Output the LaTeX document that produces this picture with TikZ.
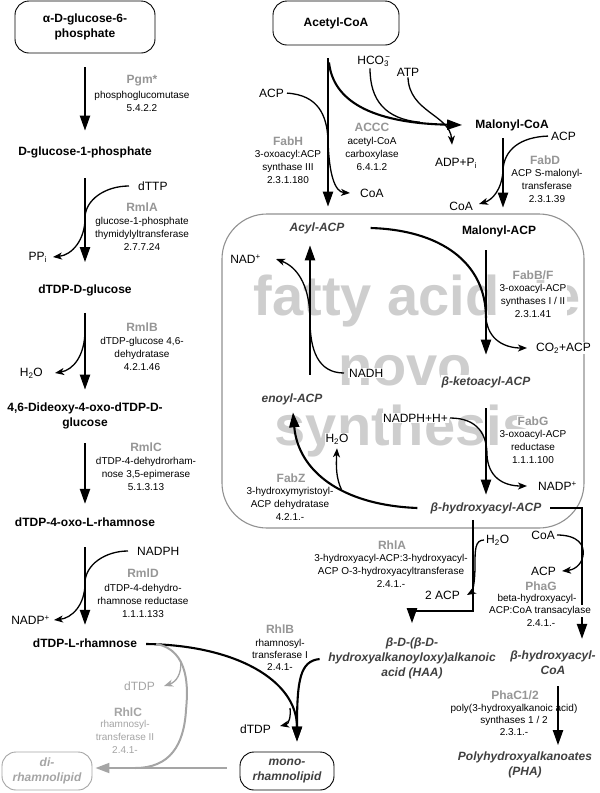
\documentclass[tikz,border=0pt]{standalone}
\usepackage{fontspec}
\setmainfont{Liberation Sans}
\usetikzlibrary{arrows.meta}
\definecolor{enzg}{RGB}{150,150,150}
\definecolor{metg}{RGB}{64,64,64}
\definecolor{wmk}{RGB}{206,206,206}
\definecolor{boxg}{RGB}{145,145,145}
\definecolor{lgr}{RGB}{165,165,165}
\begin{document}
\begin{tikzpicture}[x=1pt,y=-1pt,
  lab/.style={inner sep=1pt,fill=white},
  met/.style={lab,align=center,font=\fontsize{12}{15}\selectfont\bfseries},
  imet/.style={lab,align=center,font=\fontsize{12}{15}\selectfont\bfseries\itshape,text=metg},
  enz/.style={lab,font=\fontsize{12}{14}\selectfont\bfseries,text=enzg},
  desc/.style={lab,align=center,font=\fontsize{10}{13}\selectfont},
  descs/.style={lab,align=center,font=\fontsize{10}{12}\selectfont},
  side/.style={lab,font=\fontsize{12}{14}\selectfont},
  wm/.style={inner sep=0pt,anchor=base,text=wmk,font=\fontsize{56}{60}\selectfont\bfseries},
  rbox/.style={draw,rounded corners=14pt,line width=0.9pt},
  mainar/.style={line width=2.1pt,-{Triangle[length=15pt,width=10pt]}},
  mainln/.style={line width=2.1pt},
  sidear/.style={line width=1.3pt,-{Stealth[length=9pt,width=7pt,inset=2.5pt]}},
  sideln/.style={line width=1.3pt},
  grar/.style={line width=2pt,draw=lgr,-{Triangle[length=14pt,width=10pt]}},
  grln/.style={line width=2pt,draw=lgr},
  grsar/.style={line width=1.3pt,draw=lgr,-{Stealth[length=9pt,width=7pt,inset=2.5pt]}}
]
\useasboundingbox (0,0) rectangle (600,793);

% fatty acid box and watermark
\draw[draw=boxg,line width=1.1pt,rounded corners=45pt] (222,214) rectangle (584,528);
\node[wm] (wm1) at (417,315) {fatty acid de};
\node[wm] (wm2) at (405,385) {novo};
\node[wm] (wm3) at (404,445) {synthesis};

% left column metabolites
\node[met,rbox,minimum width=140pt,minimum height=52pt] (g6p) at (85,27) {α-D-glucose-6-\\phosphate};
\node[met] (g1p) at (85,152) {D-glucose-1-phosphate};
\node[met] (dtg) at (85,290) {dTDP-D-glucose};
\node[met] (ddx) at (85,416) {4,6-Dideoxy-4-oxo-dTDP-D-\\glucose};
\node[met] (oxr) at (85,522) {dTDP-4-oxo-L-rhamnose};
\node[met] (lrh) at (85,643) {dTDP-L-rhamnose};

% right metabolites
\node[met,rbox,minimum width=126pt,minimum height=44pt] (acoa) at (336,23) {Acetyl-CoA};
\node[met] (mcoa) at (512,125) {Malonyl-CoA};
\node[imet] (acyl) at (317,228) {Acyl-ACP};
\node[met] (macp) at (499,231) {Malonyl-ACP};
\node[imet] (bket) at (486,382) {β-ketoacyl-ACP};
\node[imet] (enoyl) at (292,399) {enoyl-ACP};
\node[imet] (bhyd) at (486,508) {β-hydroxyacyl-ACP};
\node[imet] (haa) at (412,658) {β-D-(β-D-\\hydroxyalkanoyloxy)alkanoic\\acid (HAA)};
\node[imet] (bhcoa) at (553,663) {β-hydroxyacyl-\\CoA};
\node[imet] (pha) at (525,765) {Polyhydroxyalkanoates\\(PHA)};
\node[imet,rbox,minimum width=94pt,minimum height=38pt] (mono) at (287,771) {mono-\\rhamnolipid};
\node[imet,rbox,draw=lgr,text=lgr,minimum width=90pt,minimum height=38pt] (di) at (47,771) {di-\\rhamnolipid};

% side substances
\node[side,anchor=west] (dttp) at (137,186) {dTTP};
\node[side,anchor=east] (ppi) at (48,257) {PP\textsubscript{i}};
\node[side,anchor=east] (h2oa) at (44,373) {H\textsubscript{2}O};
\node[side,anchor=west] (nadph) at (136,551) {NADPH};
\node[side,anchor=east] (nadpa) at (51,620) {NADP\textsuperscript{+}};
\node[side,anchor=east] (acp1) at (285,93) {ACP};
\node[side,anchor=west] (coa1) at (359,193) {CoA};
\node[side] (hco3) at (374,61) {HCO\rlap{\textsubscript{3}}\textsuperscript{\,−}};
\node[side] (atp) at (408,72) {ATP};
\node[side] (adp) at (456,163) {ADP+P\textsubscript{i}};
\node[side,anchor=west] (acp2) at (550,136) {ACP};
\node[side,anchor=east] (coa2) at (474,206) {CoA};
\node[side,anchor=east] (nad) at (262,259) {NAD\textsuperscript{+}};
\node[side,anchor=west] (nadh) at (348,373) {NADH};
\node[side,anchor=west] (co2) at (535,348) {CO\textsubscript{2}+ACP};
\node[side,anchor=east] (nadphh) at (449,418) {NADPH+H+};
\node[side,anchor=west] (nadp2) at (537,486) {NADP\textsuperscript{+}};
\node[side] (h2oz) at (337,439) {H\textsubscript{2}O};
\node[side,anchor=west] (h2or) at (485,540) {H\textsubscript{2}O};
\node[side,anchor=east] (acp2r) at (461,595) {2 ACP};
\node[side,anchor=east] (coap) at (556,535) {CoA};
\node[side,anchor=east] (acpp) at (557,571) {ACP};
\node[side,anchor=east] (dtdpb) at (272,729) {dTDP};
\node[side,anchor=east,text=lgr] (dtdpg) at (156,686) {dTDP};

% enzymes
\node[enz] (pgm) at (142,81) {Pgm*};
\node[desc] (pgmd) at (142,101.5) {phosphoglucomutase\\5.4.2.2};
\node[enz] (rmla) at (142,207) {RmlA};
\node[desc] (rmlad) at (142,233.5) {glucose-1-phosphate\\thymidylyltransferase\\2.7.7.24};
\node[enz] (rmlb) at (142,327) {RmlB};
\node[desc] (rmlbd) at (142,353.5) {dTDP-glucose 4,6-\\dehydratase\\4.2.1.46};
\node[enz] (rmlc) at (146,447) {RmlC};
\node[desc] (rmlcd) at (146,474) {dTDP-4-dehydrorham-\\nose 3,5-epimerase\\5.1.3.13};
\node[enz] (rmld) at (143,573) {RmlD};
\node[desc] (rmldd) at (143,600.5) {dTDP-4-dehydro-\\rhamnose reductase\\1.1.1.133};
\node[enz] (fabh) at (288,141) {FabH};
\node[desc] (fabhd) at (288,166.5) {3-oxoacyl:ACP\\synthase III\\2.3.1.180};
\node[enz] (accc) at (372,127) {ACCC};
\node[desc] (acccd) at (372,153.5) {acetyl-CoA\\carboxylase\\6.4.1.2};
\node[enz] (fabd) at (545,160) {FabD};
\node[desc] (fabdd) at (547,186) {ACP S-malonyl-\\transferase\\2.3.1.39};
\node[enz] (fabbf) at (533,275) {FabB/F};
\node[desc] (fabbfd) at (533,300.5) {3-oxoacyl-ACP\\synthases I / II\\2.3.1.41};
\node[enz] (fabg) at (533,421) {FabG};
\node[desc] (fabgd) at (533,447) {3-oxoacyl-ACP\\reductase\\1.1.1.100};
\node[enz] (fabz) at (291,478) {FabZ};
\node[desc] (fabzd) at (290,504) {3-hydroxymyristoyl-\\ACP dehydratase\\4.2.1.-};
\node[enz] (rhla) at (392,545) {RhlA};
\node[desc] (rhlad) at (391,571) {3-hydroxyacyl-ACP:3-hydroxyacyl-\\ACP O-3-hydroxyacyltransferase\\2.4.1.-};
\node[enz] (phag) at (541,586) {PhaG};
\node[descs] (phagd1) at (537,599) {beta-hydroxyacyl-};
\node[descs] (phagd3) at (541,623) {2.4.1.-};
\node[enz] (phac) at (515,695) {PhaC1/2};
\node[descs] (phacd) at (514,720) {poly(3-hydroxyalkanoic acid)\\synthases 1 / 2\\2.3.1.-};
\node[enz] (rhlb) at (280,629) {RhlB};
\node[descs] (rhlbd) at (280,654.5) {rhamnosyl-\\transferase I\\2.4.1-};
\node[enz,text=lgr] (rhlc) at (128,712) {RhlC};
\node[desc,text=lgr] (rhlcd) at (125,737) {rhamnosyl-\\transferase II\\2.4.1-};

% ---- connectors: left column
\draw[mainar,shorten <=14pt,shorten >=14.5pt] (g6p.south) -- (g1p.north);
\draw[mainar,shorten <=19.5pt,shorten >=21pt] (g1p.south) -- (dtg.north);
\draw[mainar,shorten <=16pt,shorten >=12pt] (dtg.south) -- (ddx.north);
\draw[mainar,shorten <=13pt,shorten >=12.5pt] (ddx.south) -- (oxr.north);
\draw[mainar,shorten <=19.5pt,shorten >=12.5pt] (oxr.south) -- (lrh.north);
\draw[sidear,shorten <=8pt] (dttp.west) .. controls (105,186) and (85,200) .. (85,218) .. controls (85,240) and (72,255) .. ([xshift=5pt]ppi.east);
\coordinate (rbs) at (85,330);
\draw[sidear] (rbs) .. controls (85,356) and (73,370) .. ([xshift=11pt]h2oa.east);
\draw[sidear,shorten <=8pt] (nadph.west) .. controls (105,551) and (85,565) .. (85,583) .. controls (85,605) and (72,618) .. ([xshift=3pt]nadpa.east);

% ---- top right
\draw[mainar] ([xshift=-8pt,yshift=-13pt]acoa.south) -- ([xshift=11pt,yshift=14.5pt]acyl.north);
\draw[mainar] ([xshift=-7pt,yshift=-17pt]acoa.south) .. controls (333,100) and (370,123) .. ([xshift=-12pt]mcoa.west);
\coordinate (hcm) at (420,122.2);
\draw[sideln] ([xshift=-4pt,yshift=-1pt]hco3.south) .. controls (370,100) and (385,119) .. (hcm);
\draw[sidear] (atp.south) .. controls (409,112) and (450,115) .. ([xshift=-4pt,yshift=12pt]adp.north);
\draw[sidear,shorten <=2pt] (acp1.east) .. controls (318,95) and (327,115) .. (328,140) .. controls (329,175) and (335,192) .. ([xshift=-9pt]coa1.west);
\draw[mainar] ([xshift=-9pt,yshift=-6.5pt]mcoa.south) -- ([xshift=4pt,yshift=16.5pt]macp.north);
\draw[sidear,shorten <=2pt] (acp2.west) .. controls (520,137) and (504,150) .. (503,170) .. controls (502,190) and (492,200) .. ([xshift=5pt,yshift=2pt]coa2.east);

% ---- fatty acid cycle
\draw[mainar] ([xshift=-13pt,yshift=-12.5pt]macp.south) -- ([yshift=20.5pt]bket.north);
\coordinate (fbb) at (486,318);
\draw[mainln] ([xshift=25pt]acyl.east) .. controls (440,230) and (486,262) .. (fbb);
\draw[sidear] (fbb) .. controls (488,340) and (505,348) .. ([xshift=-8pt]co2.west);
\draw[mainar] ([xshift=18pt,yshift=17.5pt]enoyl.north) -- ([xshift=-7pt,yshift=-10.5pt]acyl.south);
\draw[sidear,shorten <=4pt] (nadh.west) .. controls (318,373) and (310,350) .. (310,320) .. controls (310,290) and (300,268) .. ([xshift=14pt]nad.east);
\draw[mainar] ([yshift=-19.5pt]bket.south) -- ([yshift=6.5pt]bhyd.north);
\draw[sidear,shorten <=1pt] (nadphh.east) .. controls (478,418) and (487,435) .. (487,455) .. controls (488,476) and (502,486) .. ([xshift=-10pt]nadp2.west);
\draw[mainar] ([xshift=-12pt]bhyd.west) .. controls (340,505) and (298,470) .. ([xshift=1pt,yshift=-6.5pt]enoyl.south);
\coordinate (fzb) at (341.5,489.7);
\draw[sidear] (fzb) .. controls (336,478) and (336,466) .. ([yshift=-3pt]h2oz.south);

% ---- below the cycle
\draw[mainar] ([xshift=-13pt,yshift=-5pt]bhyd.south) -- ++(0,91) -| ([yshift=13pt]haa.north);
\draw[sidear,shorten <=1pt] (h2or.west) .. controls (475,540) and (475,550) .. (475,565) .. controls (475,585) and (472,592) .. ([xshift=6pt]acp2r.east);
\draw[mainar] ([xshift=7.5pt]bhyd.east) -| ([xshift=29pt,yshift=11pt]bhcoa.north);
\draw[sidear,shorten <=1pt] (coap.east) .. controls (578,535) and (585,545) .. (583,556) .. controls (581,566) and (573,570) .. ([xshift=5pt]acpp.east);
\draw[mainar] ([xshift=5pt,yshift=-10pt]bhcoa.south) -- ([xshift=33pt,yshift=5.5pt]pha.north);

% ---- rhamnolipids
\draw[mainar] ([xshift=8pt,yshift=-1pt]lrh.east) .. controls (235,645) and (297,680) .. ([xshift=10pt,yshift=10pt]mono.north);
\draw[mainar] ([xshift=-7.5pt,yshift=-1pt]haa.west) .. controls (300,661) and (297,680) .. ([xshift=10pt,yshift=10pt]mono.north);
\coordinate (rbb) at (290,708);
\draw[sidear] (rbb) .. controls (291,716) and (289,724) .. ([xshift=8pt,yshift=3pt]dtdpb.east);
\coordinate (gj) at (135,768);
\draw[grln] ([xshift=18pt,yshift=-1pt]lrh.east) .. controls (190,650) and (188,690) .. (186,710) .. controls (184,745) and (170,768) .. (gj);
\draw[grar] ([xshift=-13pt,yshift=3pt]mono.west) -- ([xshift=3pt,yshift=3pt]di.east);
\coordinate (gb) at (180.6,660.7);
\draw[grsar] (gb) .. controls (182,674) and (176,682) .. ([xshift=8pt]dtdpg.east);

% label line drawn over the PhaG line
\node[descs] (phagd2) at (540,611) {ACP:CoA transacylase};
\end{tikzpicture}
\end{document}
